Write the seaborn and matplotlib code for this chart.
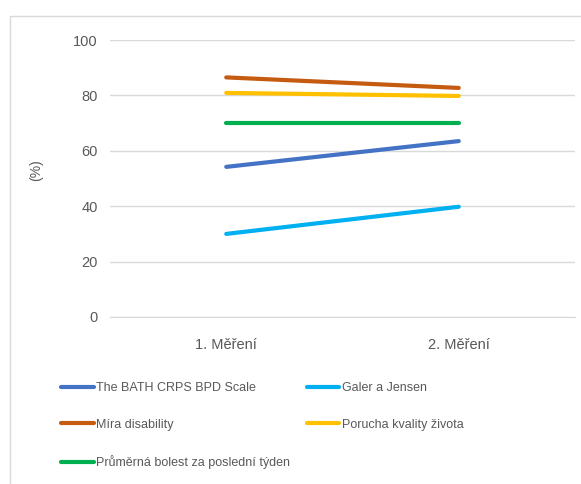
import matplotlib
matplotlib.use('Agg')
import matplotlib.pyplot as plt
import pandas as pd
import seaborn as sns
from matplotlib.lines import Line2D

# Values (percent)
measurements = ['1. Měření', '2. Měření']
series_names = [
    'The BATH CRPS BPD Scale',
    'Galer a Jensen',
    'Míra disability',
    'Porucha kvality života',
    'Průměrná bolest za poslední týden',
]
bath = [54.2, 63.5]
galer = [30.0, 39.8]
mira = [86.5, 82.7]
porucha = [80.9, 79.8]
prumerna = [70.0, 70.0]
colors = ['#4472C4', '#00B0F0', '#C55A11', '#FFC000', '#00B050']

rows = []
for name, vals in zip(series_names, [bath, galer, mira, porucha, prumerna]):
    for m, v in zip(measurements, vals):
        rows.append({'measurement': m, 'value': v, 'series': name})
df = pd.DataFrame(rows)

sns.set_style('white')
plt.rcParams['font.family'] = ['Liberation Sans', 'DejaVu Sans']

fig = plt.figure(figsize=(5.81, 4.84), dpi=100)
ax = fig.add_axes([110 / 581, 1 - 317 / 484, (575 - 110) / 581, (317 - 40) / 484])

sns.lineplot(data=df, x='measurement', y='value', hue='series',
             palette=dict(zip(series_names, colors)), linewidth=3,
             sort=False, legend=False, ax=ax, solid_capstyle='round')

ax.set_xlim(-0.5, 1.5)
ax.set_ylim(0, 100)
ax.set_yticks(range(0, 101, 20))
ax.yaxis.grid(True, color='#D9D9D9', linewidth=1)
ax.set_axisbelow(True)
for s in ax.spines.values():
    s.set_visible(False)
ax.spines['bottom'].set_visible(True)
ax.spines['bottom'].set_color('#D9D9D9')
ax.tick_params(axis='y', length=0, pad=9, labelsize=10.5, labelcolor='#595959')
ax.tick_params(axis='x', length=0, pad=15, labelsize=10.5, labelcolor='#595959')
ax.set_xlabel('')
ax.set_ylabel('(%)', fontsize=10, color='#595959')
ax.yaxis.set_label_coords((43 - 110) / 465, (317 - 170) / 277)

# legend, column-major order for 2 columns
order = [0, 2, 4, 1, 3]
handles = [Line2D([], [], color=colors[i], linewidth=3) for i in order]
labels = [series_names[i] for i in order]
fig.legend(handles, labels, ncol=2, loc='upper left',
           bbox_to_anchor=(50 / 581, 1 - 371 / 484), frameon=False,
           fontsize=9, labelcolor='#595959', handlelength=2.6,
           handletextpad=0.2, columnspacing=1.3, labelspacing=1.95)

# chart frame (top and left edges visible)
fig.add_artist(Line2D([10 / 581, 1], [1 - 16 / 484] * 2, color='#D9D9D9',
                      linewidth=1, transform=fig.transFigure))
fig.add_artist(Line2D([10 / 581] * 2, [0, 1 - 16 / 484], color='#D9D9D9',
                      linewidth=1, transform=fig.transFigure))

fig.savefig('out.png', dpi=100)
